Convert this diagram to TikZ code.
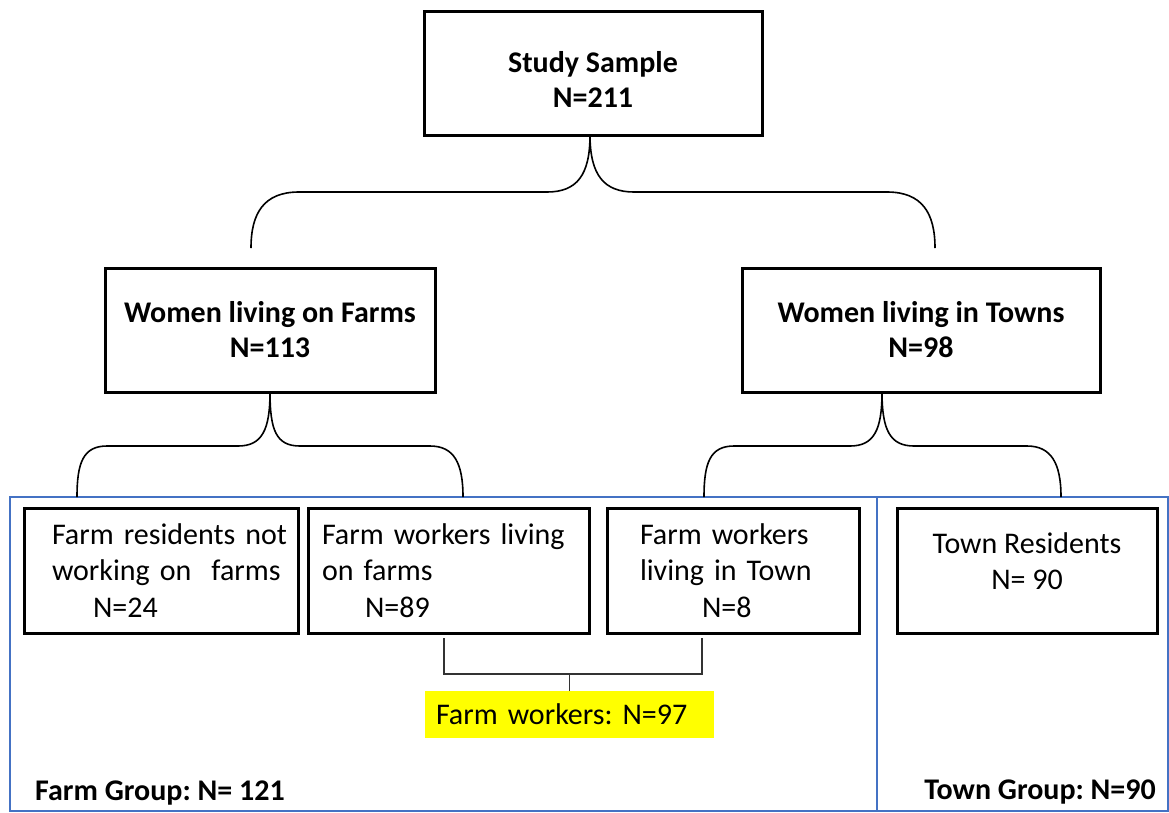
\documentclass[tikz,border=0pt]{standalone}
\usepackage{fontspec}
\setmainfont{Carlito}
\usetikzlibrary{calc}
\definecolor{grpblue}{RGB}{68,114,196}
\definecolor{hl}{RGB}{255,255,0}
\begin{document}
\frenchspacing
\begin{tikzpicture}[x=1pt,y=-1pt,
  txt/.style={font=\fontsize{30}{36.6}\selectfont\frenchspacing},
  btxt/.style={font=\fontsize{30}{35}\selectfont\bfseries\frenchspacing},
  box/.style={draw=black,line width=3pt,inner sep=0pt,outer sep=0pt,anchor=north west},
  grp/.style={draw=grpblue,line width=2pt,inner sep=0pt,outer sep=0pt,anchor=north west},
  conn/.style={draw=black,line width=1.6pt},
  brk/.style={draw=black!80,line width=1.4pt}]
\useasboundingbox (0,0) rectangle (1169,812);
% group frames
\node[grp,minimum width=867pt,minimum height=314pt] (farmgrp) at (10,497) {};
\node[grp,minimum width=291pt,minimum height=314pt] (towngrp) at (877,497) {};
% boxes
\node[box,btxt,align=center,minimum width=338pt,minimum height=124pt] (ss) at (424,11) {\\[-2pt]Study Sample\\N=211};
\node[box,btxt,align=center,minimum width=330pt,minimum height=124pt] (wf) at (105,268) {Women living on Farms\\N=113};
\node[box,btxt,align=center,minimum width=358pt,minimum height=124pt] (wt) at (742,268) {Women living in Towns\\N=98};
\node[box,txt,inner xsep=2pt,text width=270pt,align=left,minimum width=274pt,minimum height=125pt] (fr) at (24,508)
  {\hspace*{26pt}Farm residents not\\\hspace*{26pt}working on\ \ farms\\\hspace*{67pt}N=24};
\node[box,txt,inner xsep=2pt,text width=277pt,align=left,minimum width=281pt,minimum height=125pt] (fw) at (308,508)
  {\hspace*{12pt}Farm workers living\\\hspace*{12pt}on farms\\\hspace*{55pt}N=89};
\node[box,txt,inner xsep=2pt,text width=248pt,align=left,minimum width=252pt,minimum height=125pt] (ft) at (607,508)
  {\hspace*{31pt}Farm workers\\\hspace*{31pt}living in Town\\\hspace*{93pt}N=8};
\node[box,txt,align=center,minimum width=260pt,minimum height=125pt] (tr) at (897,508)
  {Town Residents\\N= 90\\[-18pt]};
\node[txt,fill=hl,anchor=north west,inner xsep=11pt,inner ysep=0pt,outer sep=0pt,text width=267pt,align=left,minimum height=47pt] (fwk) at (425,691) {Farm workers: N=97};
% group labels
\node[btxt,anchor=west,inner sep=0pt] (fg) at (35,793) {Farm Group: N= 121};
\node[btxt,anchor=east,inner sep=0pt] (tg) at (1156,792) {Town Group: N=90};
% brace ends
\coordinate (b1l) at (251,248);
\coordinate (b1r) at (935,248);
\coordinate (b2l) at (77,497);
\coordinate (b2r) at (463,497);
\coordinate (b3l) at (704,497);
\coordinate (b3r) at (1061,497);
% top brace
\draw[conn] ($(ss.south)+(-3,0)$) .. controls +(0,40) and +(30,0) .. (547,192) -- (299,192) .. controls +(-35,0) and +(0,-35) .. (b1l);
\draw[conn] ($(ss.south)+(-3,0)$) .. controls +(0,40) and +(-30,0) .. (634,192) -- (887,192) .. controls +(35,0) and +(0,-35) .. (b1r);
% farm brace
\draw[conn] (wf.south) .. controls +(0,38) and +(24,0) .. (238,446) -- (107,446) .. controls +(-24,0) and +(0,-34) .. (b2l);
\draw[conn] (wf.south) .. controls +(0,38) and +(-24,0) .. (300,446) -- (430,446) .. controls +(24,0) and +(0,-34) .. (b2r);
% town brace
\draw[conn] ($(wt.south)+(-39,0)$) .. controls +(0,38) and +(24,0) .. (850,446) -- (734,446) .. controls +(-24,0) and +(0,-34) .. (b3l);
\draw[conn] ($(wt.south)+(-39,0)$) .. controls +(0,38) and +(-24,0) .. (914,446) -- (1027,446) .. controls +(24,0) and +(0,-34) .. (b3r);
% bracket to farm workers
\draw[brk] ($(fw.south)+(-4.5,5)$) -- ++(0,36) -| ($(ft.south)+(-31,5)$);
\draw[brk] (fwk.north) -- ++(0,-17);
\end{tikzpicture}
\end{document}
